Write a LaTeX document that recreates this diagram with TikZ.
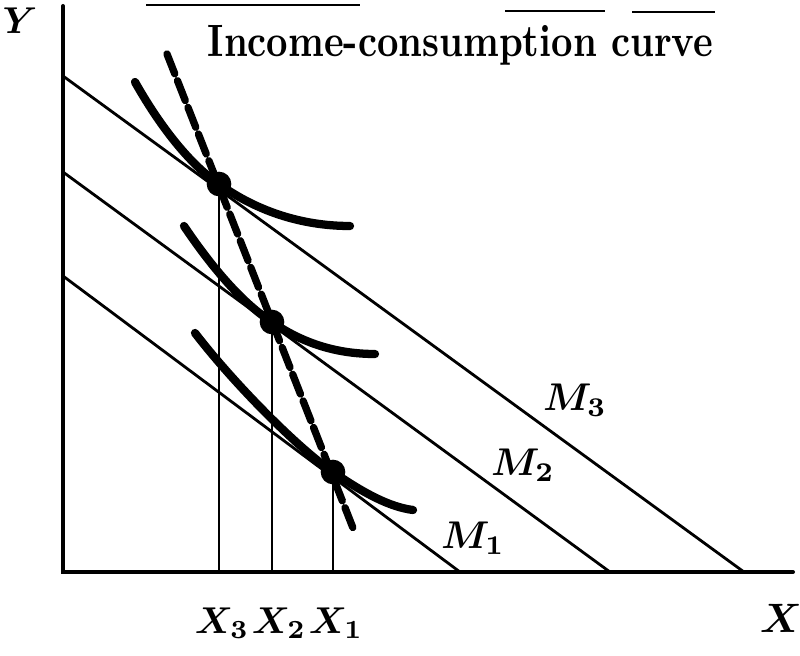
\documentclass[tikz,border=0pt]{standalone}
\begin{document}
\begin{tikzpicture}[x=0.75pt,y=-0.75pt,
  axis/.style={line width=3pt, line cap=round},
  budget/.style={line width=2.1pt},
  indiff/.style={line width=6.2pt, line cap=round},
  icc/.style={line width=5.5pt, dash pattern=on 16pt off 5.5pt, line cap=round},
  drop/.style={line width=1.4pt},
  dot/.style={circle, fill=black, inner sep=0pt, minimum size=18.5pt},
  lab/.style={inner sep=0pt, scale=2.9, font=\boldmath},
  xlab/.style={inner sep=0pt, scale=2.8, font=\boldmath},
  titlestyle/.style={inner sep=0pt, xscale=2.8, yscale=3.4, font=\bfseries},
  scan/.style={line width=1.5pt}]
\useasboundingbox (0,0) rectangle (800,656);

% scan marks at top
\coordinate (s1a) at (146,5); \coordinate (s1b) at (360,5);
\coordinate (s2a) at (505,11); \coordinate (s2b) at (605,11);
\coordinate (s3a) at (632,12); \coordinate (s3b) at (715,12);
\draw[scan] (s1a) -- (s1b);
\draw[scan] (s2a) -- (s2b);
\draw[scan] (s3a) -- (s3b);

% axes
\coordinate (O) at (63,572);
\coordinate (Ytop) at (63,6);
\coordinate (Xend) at (793,572);
\draw[axis] (Ytop) -- (O) -- (Xend);

% budget lines
\coordinate (m3a) at (63,76);  \coordinate (m3b) at (744,572);
\coordinate (m2a) at (63,172); \coordinate (m2b) at (610,572);
\coordinate (m1a) at (63,276); \coordinate (m1b) at (460,572);
\draw[budget] (m3a) -- (m3b);
\draw[budget] (m2a) -- (m2b);
\draw[budget] (m1a) -- (m1b);

% equilibrium points
\coordinate (p3) at (219,184);
\coordinate (p2) at (272,322);
\coordinate (p1) at (333,472);

% drop lines
\coordinate (x3) at (219,572);
\coordinate (x2) at (272,572);
\coordinate (x1) at (333,572);
\draw[drop] (p3) -- (x3);
\draw[drop] (p2) -- (x2);
\draw[drop] (p1) -- (x1);

% indifference curves
\draw[indiff] (135,82) .. controls (165,135) and (195,168) .. (p3)
  .. controls (255,210) and (300,226) .. (350,226);
\draw[indiff] (184,226) .. controls (215,272) and (245,305) .. (p2)
  .. controls (305,345) and (340,354) .. (375,354);
\draw[indiff] (195,333) .. controls (235,385) and (300,450) .. (p1)
  .. controls (365,494) and (390,507) .. (413,510);

% income-consumption curve
\coordinate (icca) at (167,54);
\coordinate (iccb) at (353,528);
\draw[icc] (icca) -- (iccb);

% dots
\node[dot] (P3) at (p3) {};
\node[dot] (P2) at (p2) {};
\node[dot] (P1) at (p1) {};

% labels
\node[titlestyle, anchor=base west] (title) at (207,57) {Income-consumption curve};
\node[lab] (M3) at (575,400) {$M_3$};
\node[lab] (M2) at (523,465) {$M_2$};
\node[lab] (M1) at (473,538) {$M_1$};
\node[xlab] (X3) at (222,623) {$X_3$};
\node[xlab] (X2) at (279,623) {$X_2$};
\node[xlab] (X1) at (336,623) {$X_1$};
\node[xlab] (Ylab) at (20,21) {$Y$};
\node[xlab, scale=1.1] (Xlab) at (781,618) {$X$};
\end{tikzpicture}
\end{document}
